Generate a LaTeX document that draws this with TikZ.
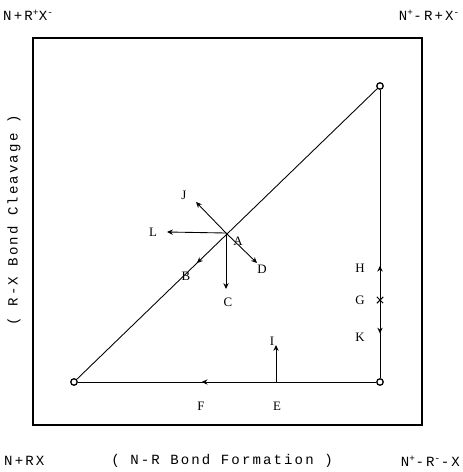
\documentclass[tikz,border=0pt]{standalone}
\usepackage{fontspec}
\setmainfont{Liberation Serif}
\newfontfamily\tw[LetterSpace=15]{Liberation Mono}
\usetikzlibrary{arrows.meta, decorations.markings, shapes.misc}

\begin{document}
\begin{tikzpicture}[x=0.03cm, y=-0.03cm,
    >={Stealth[length=5pt,width=4.5pt]},
    pt/.style={circle, draw, fill=white, line width=1.1pt, inner sep=0pt, minimum size=5.5pt},
    lbl/.style={font=\fontsize{11}{13}\selectfont},
    axistext/.style={font=\tw\fontsize{12}{14}\selectfont, inner sep=0pt},
    track/.style={line width=0.75pt}]
    \useasboundingbox (0,0) rectangle (462,472);

    % frame
    \draw[line width=1.2pt] (33,38) rectangle (422,425);

    % corner states
    \node[pt] (nrx) at (74,382) {};
    \node[pt] (npr) at (380,382) {};
    \node[pt] (nrp) at (380,86) {};
    \coordinate (A) at (226,233);
    \coordinate (E) at (276,382);

    % diagonal (synchronous) path, arrow toward B
    \draw[track, postaction={decorate}, decoration={markings,
        mark=at position 0.6 with {\arrow{>}}}] (nrp) -- (nrx);
    % bottom edge, arrow toward F
    \draw[track, postaction={decorate}, decoration={markings,
        mark=at position 0.585 with {\arrow{>}}}] (npr) -- (nrx);
    % right edge, H up and K down
    \draw[track, postaction={decorate}, decoration={markings,
        mark=at position 0.39 with {\arrow{>}},
        mark=at position 0.175 with {\arrow{<}}}] (npr) -- (nrp);

    % perturbations at A
    \draw[track, ->] (A) -- (196,202);
    \draw[track, ->] (A) -- (167,232);
    \draw[track, ->] (A) -- (226,289);
    \draw[track, ->] (A) -- (257,263);
    % perturbation at E
    \draw[track, ->] (E) -- (276,345);
    \node[draw, cross out, line width=0.9pt, inner sep=0pt, minimum size=4.5pt] (G) at (380,300) {};

    \node[lbl] (lJ) at (184,195) {J};
    \node[lbl] (lL) at (153,232) {L};
    \node[lbl] (lA) at (238,241) {A};
    \node[lbl] (lD) at (262,269) {D};
    \node[lbl] (lB) at (186,276) {B};
    \node[lbl] (lC) at (228,302) {C};
    \node[lbl] (lH) at (360,268) {H};
    \node[lbl] (lG) at (360,300) {G};
    \node[lbl] (lK) at (360,337) {K};
    \node[lbl] (lI) at (272,341) {I};
    \node[lbl] (lF) at (201,406) {F};
    \node[lbl] (lE) at (277,406) {E};

    % axis captions
    \node[axistext, anchor=west] (tl) at (3,15) {N+R\textsuperscript{+}X\textsuperscript{-}};
    \node[axistext, anchor=east] (tr) at (460,15) {N\textsuperscript{+}-R+X\textsuperscript{-}};
    \node[axistext, anchor=west] (bl) at (4,461) {N+RX};
    \node[axistext] (bx) at (222,461) {( N-R Bond Formation )};
    \node[axistext, anchor=east] (br) at (460,461) {N\textsuperscript{+}-R\textsuperscript{-}-X};
    \node[axistext, rotate=90] (ly) at (14,220) {( R-X Bond Cleavage )};
\end{tikzpicture}
\end{document}
